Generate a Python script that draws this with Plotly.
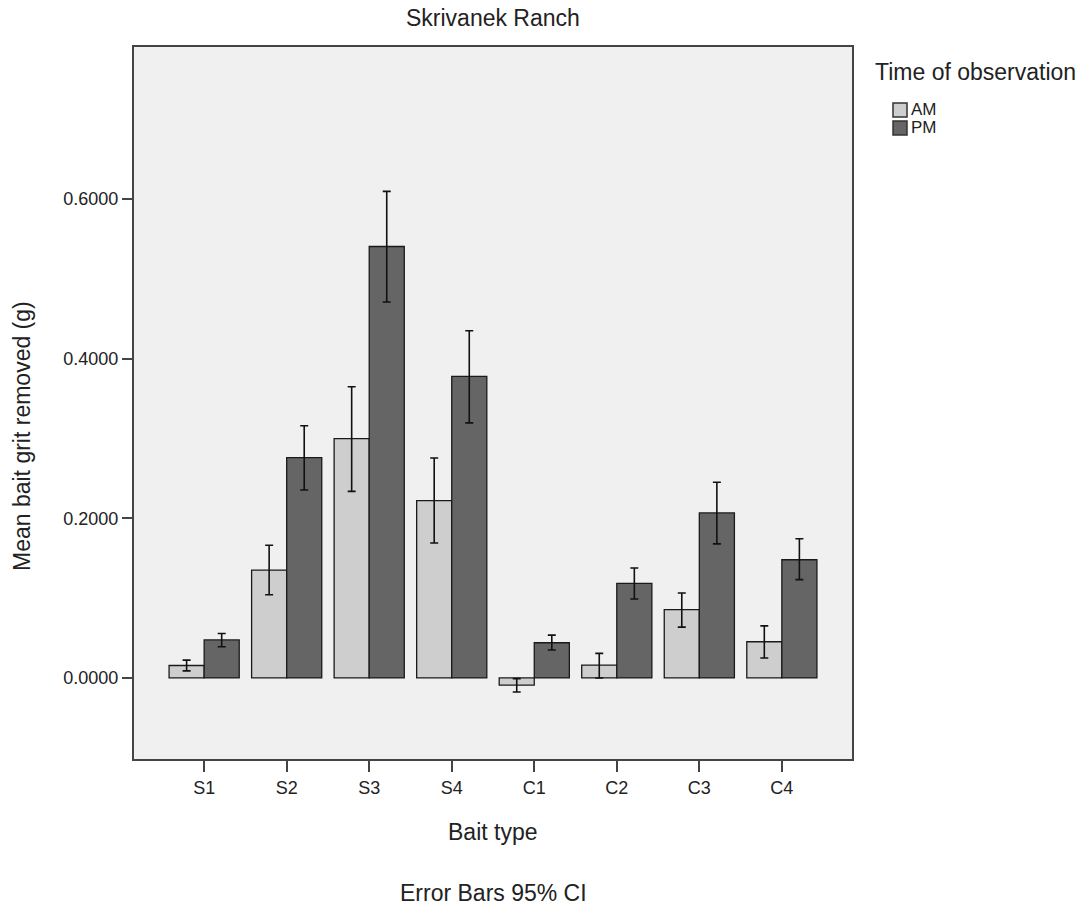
import plotly.graph_objects as go

bait_types = ["S1", "S2", "S3", "S4", "C1", "C2", "C3", "C4"]

am_mean = [0.0156, 0.1351, 0.2997, 0.2221, -0.0090, 0.0162, 0.0857, 0.0454]
am_ci_low = [0.0089, 0.1043, 0.2337, 0.1690, -0.0175, 0.0000, 0.0637, 0.0250]
am_ci_high = [0.0223, 0.1663, 0.3648, 0.2756, -0.0008, 0.0308, 0.1065, 0.0653]

pm_mean = [0.0477, 0.2760, 0.5405, 0.3777, 0.0441, 0.1186, 0.2068, 0.1481]
pm_ci_low = [0.0392, 0.2354, 0.4709, 0.3196, 0.0350, 0.0990, 0.1680, 0.1232]
pm_ci_high = [0.0557, 0.3160, 0.6096, 0.4350, 0.0537, 0.1377, 0.2451, 0.1744]

FONT = "Liberation Sans, Arial, sans-serif"
TEXT = "#222222"
W, H = 1089, 907
ML, MR, MT, MB = 134, 237, 47, 148
PW, PH = W - ML - MR, H - MT - MB


def px_x(x):
    # pixel column -> paper x
    return (x - ML) / PW


def px_y(y):
    # pixel row -> paper y
    return (H - MB - y) / PH


def ci_arrays(mean, low, high):
    plus = [h - m for m, h in zip(mean, high)]
    minus = [m - l for m, l in zip(mean, low)]
    return plus, minus


series = [
    ("AM", am_mean, am_ci_low, am_ci_high, "#cecece"),
    ("PM", pm_mean, pm_ci_low, pm_ci_high, "#656565"),
]

fig = go.Figure()
for name, mean, low, high, color in series:
    plus, minus = ci_arrays(mean, low, high)
    fig.add_trace(go.Bar(
        name=name,
        x=bait_types,
        y=mean,
        marker=dict(color=color, line=dict(color="#1a1a1a", width=1.3)),
        error_y=dict(type="data", array=plus, arrayminus=minus,
                     color="#111111", thickness=1.6, width=4),
        showlegend=False,
    ))

annotations = [
    dict(text="Skrivanek Ranch", x=0.5, y=px_y(18)),
    dict(text="Bait type", x=0.5, y=px_y(832)),
    dict(text="Error Bars 95% CI", x=0.5, y=px_y(893)),
    dict(text="Mean bait grit removed (g)", x=px_x(22), y=px_y(436),
         textangle=-90),
    dict(text="Time of observation", x=px_x(873), y=px_y(72),
         xanchor="left"),
]
annotations = [dict(dict(xref="paper", yref="paper", xanchor="center",
                         yanchor="middle", showarrow=False,
                         font=dict(family=FONT, size=23, color=TEXT)), **a)
               for a in annotations]

# legend swatches and labels
shapes = []
for i, (name, _, _, _, color) in enumerate(series):
    cy = 110 + 18 * i
    shapes.append(dict(type="rect", xref="paper", yref="paper",
                       x0=px_x(893), x1=px_x(907),
                       y0=px_y(cy + 7), y1=px_y(cy - 7),
                       fillcolor=color, line=dict(color="#333333", width=1.5)))
    annotations.append(dict(text=name, xref="paper", yref="paper",
                            x=px_x(909), y=px_y(cy), xanchor="left",
                            yanchor="middle", showarrow=False,
                            font=dict(family=FONT, size=17, color=TEXT)))

fig.update_layout(
    width=W,
    height=H,
    margin=dict(l=ML, r=MR, t=MT, b=MB),
    paper_bgcolor="white",
    plot_bgcolor="#f0f0f0",
    barmode="group",
    bargap=0.15,
    bargroupgap=0,
    font=dict(family=FONT, size=18, color=TEXT),
    showlegend=False,
    annotations=annotations,
    shapes=shapes,
)

fig.update_xaxes(
    type="category",
    range=[-0.85, 7.85],
    showline=True, mirror=True, linecolor="#444444", linewidth=2,
    ticks="outside", ticklen=11, tickwidth=2, tickcolor="#444444",
    showgrid=False, zeroline=False,
    tickfont=dict(family=FONT, size=18, color=TEXT),
)

fig.update_yaxes(
    range=[-0.1015, 0.7904],
    tickvals=[0.0, 0.2, 0.4, 0.6],
    tickformat=".4f",
    showline=True, mirror=True, linecolor="#444444", linewidth=2,
    ticks="outside", ticklen=10, tickwidth=2, tickcolor="#444444",
    showgrid=False, zeroline=False,
    tickfont=dict(family=FONT, size=18, color=TEXT),
)

fig.write_html("out.html")
